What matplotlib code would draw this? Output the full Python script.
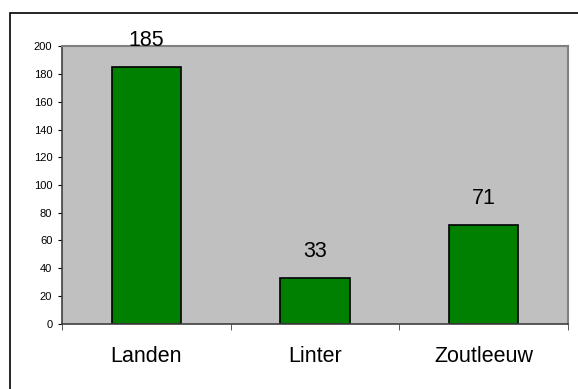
import matplotlib.pyplot as plt
from matplotlib.patches import Rectangle
import numpy as np

plt.rcParams['font.family'] = ['Liberation Sans', 'DejaVu Sans']

gemeenten = ['Landen', 'Linter', 'Zoutleeuw']
aantal = [185, 33, 71]

fig = plt.figure(figsize=(5.78, 3.89), dpi=100)
ax = fig.add_axes([62/578, 1 - 323.5/389, 506/578, 277/389])

# outer chart frame, runs off the right and bottom edges
fig.patches.append(Rectangle((10/578, -0.1), 1.2, 1 - 13/389 + 0.1,
                             transform=fig.transFigure, fill=False,
                             edgecolor='black', linewidth=1.2, zorder=0))

x = np.arange(len(gemeenten))
ax.set_facecolor('#c0c0c0')
ax.bar(x, aantal, width=0.41, color='#008000', edgecolor='black', linewidth=1.2, zorder=2)

for xi, v in zip(x, aantal):
    ax.annotate(str(v), (xi, v), xytext=(0, 11.5), textcoords='offset points',
                ha='center', va='bottom', fontsize=15.5)

ax.set_xlim(-0.5, 2.5)
ax.set_ylim(0, 200)
ax.set_yticks(range(0, 201, 20))
ax.tick_params(axis='y', labelsize=8, length=3, pad=4)

ax.set_xticks(x)
ax.set_xticklabels(gemeenten, fontsize=15.5)
ax.set_xticks([-0.5, 0.5, 1.5, 2.5], minor=True)
ax.tick_params(axis='x', which='major', length=0, pad=16)
ax.tick_params(axis='x', which='minor', length=4, color='#404040')

for s in ['top', 'right']:
    ax.spines[s].set_color('#808080')
    ax.spines[s].set_linewidth(1.5)
for s in ['left', 'bottom']:
    ax.spines[s].set_color('#404040')
    ax.spines[s].set_linewidth(1.2)

fig.savefig('out.png', dpi=100)
